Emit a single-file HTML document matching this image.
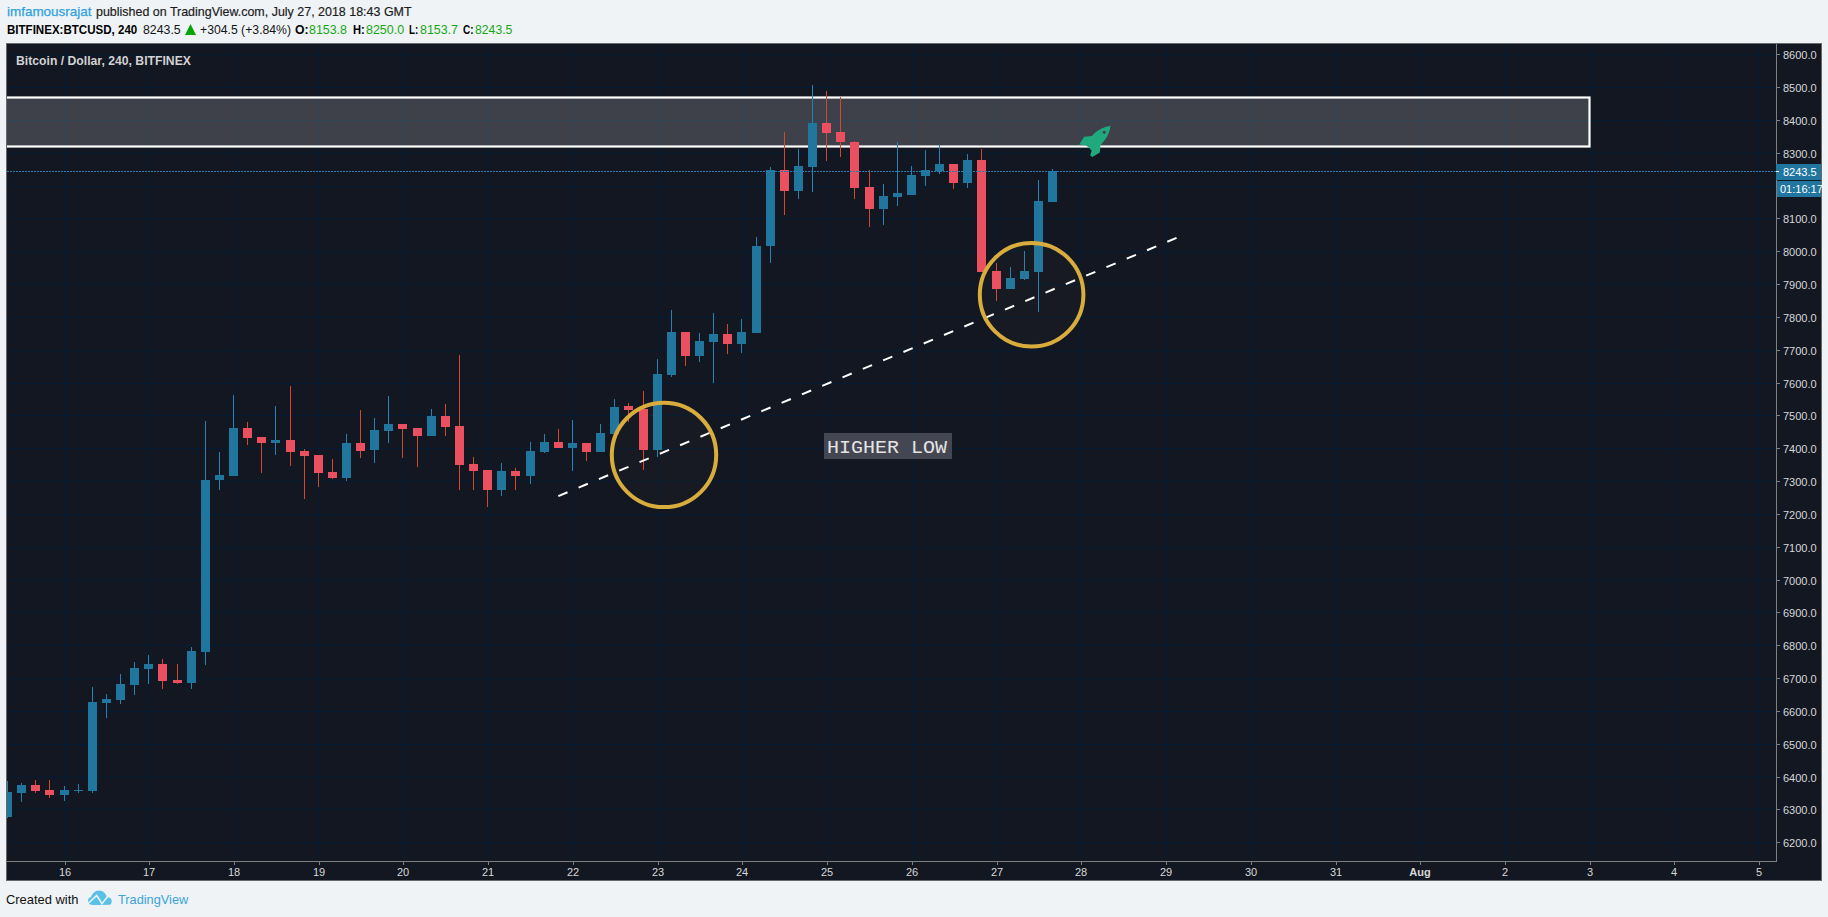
<!DOCTYPE html>
<html><head><meta charset="utf-8"><style>
html,body{margin:0;padding:0;}
body{width:1828px;height:917px;background:#eff3f6;position:relative;overflow:hidden;font-family:"Liberation Sans",sans-serif;}
.t{position:absolute;white-space:nowrap;font-size:12px;line-height:14px;color:#222;}
svg.main{position:absolute;left:0;top:0;}
.pl{position:absolute;left:1783px;font-size:11px;line-height:14px;color:#d8d8d8;white-space:nowrap;}
.dl{position:absolute;top:865px;width:40px;text-align:center;font-size:11px;line-height:14px;color:#d8d8d8;}
.b{font-weight:bold;}
.s{position:absolute;white-space:nowrap;line-height:20px;transform-origin:0 0;}
.g{color:#21a321;}
</style></head><body>
<svg class="main" width="1828" height="917" viewBox="0 0 1828 917">
<defs><clipPath id="pane"><rect x="7" y="44" width="1769" height="817"/></clipPath></defs>
<rect x="6.5" y="43.5" width="1815" height="837" fill="#131722" stroke="#696969" stroke-width="1"/>
<g clip-path="url(#pane)">
<g fill="#031c33">
<rect x="7" y="54" width="1768" height="1"/>
<rect x="7" y="87" width="1768" height="1"/>
<rect x="7" y="120" width="1768" height="1"/>
<rect x="7" y="153" width="1768" height="1"/>
<rect x="7" y="186" width="1768" height="1"/>
<rect x="7" y="218" width="1768" height="1"/>
<rect x="7" y="251" width="1768" height="1"/>
<rect x="7" y="284" width="1768" height="1"/>
<rect x="7" y="317" width="1768" height="1"/>
<rect x="7" y="350" width="1768" height="1"/>
<rect x="7" y="383" width="1768" height="1"/>
<rect x="7" y="415" width="1768" height="1"/>
<rect x="7" y="448" width="1768" height="1"/>
<rect x="7" y="481" width="1768" height="1"/>
<rect x="7" y="514" width="1768" height="1"/>
<rect x="7" y="547" width="1768" height="1"/>
<rect x="7" y="580" width="1768" height="1"/>
<rect x="7" y="612" width="1768" height="1"/>
<rect x="7" y="645" width="1768" height="1"/>
<rect x="7" y="678" width="1768" height="1"/>
<rect x="7" y="711" width="1768" height="1"/>
<rect x="7" y="744" width="1768" height="1"/>
<rect x="7" y="777" width="1768" height="1"/>
<rect x="7" y="809" width="1768" height="1"/>
<rect x="7" y="842" width="1768" height="1"/>
<rect x="65" y="44" width="1" height="817"/>
<rect x="149" y="44" width="1" height="817"/>
<rect x="234" y="44" width="1" height="817"/>
<rect x="319" y="44" width="1" height="817"/>
<rect x="403" y="44" width="1" height="817"/>
<rect x="488" y="44" width="1" height="817"/>
<rect x="573" y="44" width="1" height="817"/>
<rect x="658" y="44" width="1" height="817"/>
<rect x="742" y="44" width="1" height="817"/>
<rect x="827" y="44" width="1" height="817"/>
<rect x="912" y="44" width="1" height="817"/>
<rect x="997" y="44" width="1" height="817"/>
<rect x="1081" y="44" width="1" height="817"/>
<rect x="1166" y="44" width="1" height="817"/>
<rect x="1251" y="44" width="1" height="817"/>
<rect x="1336" y="44" width="1" height="817"/>
<rect x="1420" y="44" width="1" height="817"/>
<rect x="1505" y="44" width="1" height="817"/>
<rect x="1590" y="44" width="1" height="817"/>
<rect x="1674" y="44" width="1" height="817"/>
<rect x="1759" y="44" width="1" height="817"/>
</g>
<rect x="0" y="97.5" width="1589.5" height="49" fill="rgba(255,255,255,0.185)"/>
<rect x="0" y="97.5" width="1589.5" height="49" fill="none" stroke="#ffffff" stroke-width="2.2"/>
<g shape-rendering="crispEdges">
<rect x="7" y="781" width="1" height="37" fill="#2582b3"/>
<rect x="3" y="792" width="9" height="25" fill="#21769e"/>
<rect x="21" y="783" width="1" height="19" fill="#2582b3"/>
<rect x="17" y="785" width="9" height="8" fill="#21769e"/>
<rect x="35" y="780" width="1" height="13" fill="#d4482a"/>
<rect x="31" y="785" width="9" height="6" fill="#eb5060"/>
<rect x="49" y="780" width="1" height="18" fill="#d4482a"/>
<rect x="45" y="790" width="9" height="5" fill="#eb5060"/>
<rect x="64" y="786" width="1" height="15" fill="#2582b3"/>
<rect x="60" y="790" width="9" height="5" fill="#21769e"/>
<rect x="78" y="784" width="1" height="9" fill="#2582b3"/>
<rect x="74" y="790" width="9" height="1" fill="#21769e"/>
<rect x="92" y="687" width="1" height="106" fill="#2582b3"/>
<rect x="88" y="702" width="9" height="89" fill="#21769e"/>
<rect x="106" y="694" width="1" height="24" fill="#2582b3"/>
<rect x="102" y="699" width="9" height="4" fill="#21769e"/>
<rect x="120" y="674" width="1" height="30" fill="#2582b3"/>
<rect x="116" y="684" width="9" height="16" fill="#21769e"/>
<rect x="134" y="662" width="1" height="33" fill="#2582b3"/>
<rect x="130" y="668" width="9" height="17" fill="#21769e"/>
<rect x="148" y="655" width="1" height="29" fill="#2582b3"/>
<rect x="144" y="664" width="9" height="5" fill="#21769e"/>
<rect x="162" y="659" width="1" height="30" fill="#d4482a"/>
<rect x="158" y="664" width="9" height="17" fill="#eb5060"/>
<rect x="177" y="664" width="1" height="20" fill="#d4482a"/>
<rect x="173" y="680" width="9" height="3" fill="#eb5060"/>
<rect x="191" y="647" width="1" height="42" fill="#2582b3"/>
<rect x="187" y="651" width="9" height="32" fill="#21769e"/>
<rect x="205" y="421" width="1" height="244" fill="#2582b3"/>
<rect x="201" y="480" width="9" height="172" fill="#21769e"/>
<rect x="219" y="452" width="1" height="38" fill="#2582b3"/>
<rect x="215" y="475" width="9" height="5" fill="#21769e"/>
<rect x="233" y="395" width="1" height="81" fill="#2582b3"/>
<rect x="229" y="428" width="9" height="48" fill="#21769e"/>
<rect x="247" y="422" width="1" height="23" fill="#d4482a"/>
<rect x="243" y="428" width="9" height="10" fill="#eb5060"/>
<rect x="261" y="437" width="1" height="36" fill="#d4482a"/>
<rect x="257" y="437" width="9" height="6" fill="#eb5060"/>
<rect x="275" y="406" width="1" height="49" fill="#2582b3"/>
<rect x="271" y="440" width="9" height="3" fill="#21769e"/>
<rect x="290" y="386" width="1" height="80" fill="#d4482a"/>
<rect x="286" y="440" width="9" height="12" fill="#eb5060"/>
<rect x="304" y="449" width="1" height="50" fill="#d4482a"/>
<rect x="300" y="451" width="9" height="5" fill="#eb5060"/>
<rect x="318" y="455" width="1" height="32" fill="#d4482a"/>
<rect x="314" y="455" width="9" height="18" fill="#eb5060"/>
<rect x="332" y="459" width="1" height="20" fill="#d4482a"/>
<rect x="328" y="472" width="9" height="6" fill="#eb5060"/>
<rect x="346" y="434" width="1" height="47" fill="#2582b3"/>
<rect x="342" y="443" width="9" height="35" fill="#21769e"/>
<rect x="360" y="410" width="1" height="48" fill="#d4482a"/>
<rect x="356" y="443" width="9" height="8" fill="#eb5060"/>
<rect x="374" y="418" width="1" height="45" fill="#2582b3"/>
<rect x="370" y="430" width="9" height="20" fill="#21769e"/>
<rect x="388" y="396" width="1" height="47" fill="#2582b3"/>
<rect x="384" y="424" width="9" height="7" fill="#21769e"/>
<rect x="402" y="424" width="1" height="34" fill="#d4482a"/>
<rect x="398" y="424" width="9" height="5" fill="#eb5060"/>
<rect x="417" y="428" width="1" height="39" fill="#d4482a"/>
<rect x="413" y="428" width="9" height="8" fill="#eb5060"/>
<rect x="431" y="409" width="1" height="27" fill="#2582b3"/>
<rect x="427" y="416" width="9" height="20" fill="#21769e"/>
<rect x="445" y="404" width="1" height="32" fill="#d4482a"/>
<rect x="441" y="416" width="9" height="11" fill="#eb5060"/>
<rect x="459" y="355" width="1" height="135" fill="#d4482a"/>
<rect x="455" y="426" width="9" height="39" fill="#eb5060"/>
<rect x="473" y="457" width="1" height="33" fill="#d4482a"/>
<rect x="469" y="464" width="9" height="7" fill="#eb5060"/>
<rect x="487" y="470" width="1" height="37" fill="#d4482a"/>
<rect x="483" y="470" width="9" height="20" fill="#eb5060"/>
<rect x="501" y="463" width="1" height="33" fill="#2582b3"/>
<rect x="497" y="471" width="9" height="19" fill="#21769e"/>
<rect x="515" y="468" width="1" height="22" fill="#d4482a"/>
<rect x="511" y="471" width="9" height="5" fill="#eb5060"/>
<rect x="530" y="442" width="1" height="42" fill="#2582b3"/>
<rect x="526" y="451" width="9" height="25" fill="#21769e"/>
<rect x="544" y="434" width="1" height="19" fill="#2582b3"/>
<rect x="540" y="442" width="9" height="10" fill="#21769e"/>
<rect x="558" y="429" width="1" height="19" fill="#d4482a"/>
<rect x="554" y="442" width="9" height="6" fill="#eb5060"/>
<rect x="572" y="420" width="1" height="51" fill="#2582b3"/>
<rect x="568" y="443" width="9" height="5" fill="#21769e"/>
<rect x="586" y="443" width="1" height="18" fill="#d4482a"/>
<rect x="582" y="443" width="9" height="9" fill="#eb5060"/>
<rect x="600" y="424" width="1" height="28" fill="#2582b3"/>
<rect x="596" y="433" width="9" height="19" fill="#21769e"/>
<rect x="614" y="399" width="1" height="35" fill="#2582b3"/>
<rect x="610" y="407" width="9" height="27" fill="#21769e"/>
<rect x="628" y="403" width="1" height="19" fill="#d4482a"/>
<rect x="624" y="406" width="9" height="4" fill="#eb5060"/>
<rect x="643" y="391" width="1" height="79" fill="#d4482a"/>
<rect x="639" y="409" width="9" height="41" fill="#eb5060"/>
<rect x="657" y="359" width="1" height="98" fill="#2582b3"/>
<rect x="653" y="374" width="9" height="76" fill="#21769e"/>
<rect x="671" y="310" width="1" height="67" fill="#2582b3"/>
<rect x="667" y="332" width="9" height="43" fill="#21769e"/>
<rect x="685" y="332" width="1" height="34" fill="#d4482a"/>
<rect x="681" y="332" width="9" height="24" fill="#eb5060"/>
<rect x="699" y="333" width="1" height="29" fill="#2582b3"/>
<rect x="695" y="341" width="9" height="15" fill="#21769e"/>
<rect x="713" y="313" width="1" height="70" fill="#2582b3"/>
<rect x="709" y="334" width="9" height="8" fill="#21769e"/>
<rect x="727" y="324" width="1" height="30" fill="#d4482a"/>
<rect x="723" y="334" width="9" height="10" fill="#eb5060"/>
<rect x="741" y="319" width="1" height="34" fill="#2582b3"/>
<rect x="737" y="332" width="9" height="12" fill="#21769e"/>
<rect x="756" y="237" width="1" height="96" fill="#2582b3"/>
<rect x="752" y="246" width="9" height="87" fill="#21769e"/>
<rect x="770" y="167" width="1" height="96" fill="#2582b3"/>
<rect x="766" y="170" width="9" height="76" fill="#21769e"/>
<rect x="784" y="132" width="1" height="83" fill="#d4482a"/>
<rect x="780" y="170" width="9" height="21" fill="#eb5060"/>
<rect x="798" y="149" width="1" height="50" fill="#2582b3"/>
<rect x="794" y="166" width="9" height="25" fill="#21769e"/>
<rect x="812" y="85" width="1" height="107" fill="#2582b3"/>
<rect x="808" y="123" width="9" height="44" fill="#21769e"/>
<rect x="826" y="91" width="1" height="70" fill="#d4482a"/>
<rect x="822" y="123" width="9" height="10" fill="#eb5060"/>
<rect x="840" y="97" width="1" height="60" fill="#d4482a"/>
<rect x="836" y="132" width="9" height="10" fill="#eb5060"/>
<rect x="854" y="141" width="1" height="58" fill="#d4482a"/>
<rect x="850" y="142" width="9" height="46" fill="#eb5060"/>
<rect x="869" y="170" width="1" height="57" fill="#d4482a"/>
<rect x="865" y="187" width="9" height="22" fill="#eb5060"/>
<rect x="883" y="184" width="1" height="41" fill="#2582b3"/>
<rect x="879" y="196" width="9" height="13" fill="#21769e"/>
<rect x="897" y="142" width="1" height="64" fill="#2582b3"/>
<rect x="893" y="193" width="9" height="4" fill="#21769e"/>
<rect x="911" y="166" width="1" height="29" fill="#2582b3"/>
<rect x="907" y="175" width="9" height="20" fill="#21769e"/>
<rect x="925" y="150" width="1" height="36" fill="#2582b3"/>
<rect x="921" y="170" width="9" height="6" fill="#21769e"/>
<rect x="939" y="145" width="1" height="29" fill="#2582b3"/>
<rect x="935" y="164" width="9" height="7" fill="#21769e"/>
<rect x="953" y="164" width="1" height="25" fill="#d4482a"/>
<rect x="949" y="164" width="9" height="19" fill="#eb5060"/>
<rect x="967" y="154" width="1" height="34" fill="#2582b3"/>
<rect x="963" y="160" width="9" height="23" fill="#21769e"/>
<rect x="981" y="149" width="1" height="123" fill="#d4482a"/>
<rect x="977" y="160" width="9" height="112" fill="#eb5060"/>
<rect x="996" y="263" width="1" height="38" fill="#d4482a"/>
<rect x="992" y="271" width="9" height="18" fill="#eb5060"/>
<rect x="1010" y="267" width="1" height="22" fill="#2582b3"/>
<rect x="1006" y="278" width="9" height="11" fill="#21769e"/>
<rect x="1024" y="251" width="1" height="29" fill="#2582b3"/>
<rect x="1020" y="271" width="9" height="8" fill="#21769e"/>
<rect x="1038" y="180" width="1" height="132" fill="#2582b3"/>
<rect x="1034" y="201" width="9" height="71" fill="#21769e"/>
<rect x="1052" y="169" width="1" height="33" fill="#2582b3"/>
<rect x="1048" y="171" width="9" height="31" fill="#21769e"/>
</g>
<line x1="7" y1="171.5" x2="1776" y2="171.5" stroke="#237ead" stroke-width="1" stroke-dasharray="2 1" shape-rendering="crispEdges"/>
<line x1="558.3" y1="496.1" x2="1177" y2="237.7" stroke="#ffffff" stroke-width="2" stroke-dasharray="10 12"/>
<circle cx="664" cy="454.9" r="52.2" fill="rgba(255,200,60,0.02)" stroke="#d9ad3d" stroke-width="4"/>
<circle cx="1031.6" cy="294.75" r="51.8" fill="rgba(255,200,60,0.02)" stroke="#d9ad3d" stroke-width="4"/>
<path fill="#1fa97d" fill-rule="evenodd" d="M1110.4 125.8 C1110.2 131 1107.8 136.5 1104 141 L1100.5 145.2 L1099.8 152.6 L1092.4 157.1 L1090.2 155.6 L1091.6 150.6 L1088.3 147 L1085.5 145.2 L1079.2 144.5 L1084.2 136.8 L1091.8 136 C1095.5 131.8 1101.5 127.5 1110.4 125.8 Z M1104.2 130.7 a1.6 1.6 0 1 0 0.01 0 Z"/>
<rect x="824" y="433" width="128" height="26" fill="rgba(110,112,120,0.55)"/>
</g>
<rect x="1776" y="44" width="1" height="818" fill="#808080"/>
<rect x="7" y="861" width="1770" height="1" fill="#808080"/>
<g fill="#808080">
<rect x="1777" y="54" width="3" height="1"/>
<rect x="1777" y="87" width="3" height="1"/>
<rect x="1777" y="120" width="3" height="1"/>
<rect x="1777" y="153" width="3" height="1"/>
<rect x="1777" y="186" width="3" height="1"/>
<rect x="1777" y="218" width="3" height="1"/>
<rect x="1777" y="251" width="3" height="1"/>
<rect x="1777" y="284" width="3" height="1"/>
<rect x="1777" y="317" width="3" height="1"/>
<rect x="1777" y="350" width="3" height="1"/>
<rect x="1777" y="383" width="3" height="1"/>
<rect x="1777" y="415" width="3" height="1"/>
<rect x="1777" y="448" width="3" height="1"/>
<rect x="1777" y="481" width="3" height="1"/>
<rect x="1777" y="514" width="3" height="1"/>
<rect x="1777" y="547" width="3" height="1"/>
<rect x="1777" y="580" width="3" height="1"/>
<rect x="1777" y="612" width="3" height="1"/>
<rect x="1777" y="645" width="3" height="1"/>
<rect x="1777" y="678" width="3" height="1"/>
<rect x="1777" y="711" width="3" height="1"/>
<rect x="1777" y="744" width="3" height="1"/>
<rect x="1777" y="777" width="3" height="1"/>
<rect x="1777" y="809" width="3" height="1"/>
<rect x="1777" y="842" width="3" height="1"/>
<rect x="65" y="862" width="1" height="3"/>
<rect x="149" y="862" width="1" height="3"/>
<rect x="234" y="862" width="1" height="3"/>
<rect x="319" y="862" width="1" height="3"/>
<rect x="403" y="862" width="1" height="3"/>
<rect x="488" y="862" width="1" height="3"/>
<rect x="573" y="862" width="1" height="3"/>
<rect x="658" y="862" width="1" height="3"/>
<rect x="742" y="862" width="1" height="3"/>
<rect x="827" y="862" width="1" height="3"/>
<rect x="912" y="862" width="1" height="3"/>
<rect x="997" y="862" width="1" height="3"/>
<rect x="1081" y="862" width="1" height="3"/>
<rect x="1166" y="862" width="1" height="3"/>
<rect x="1251" y="862" width="1" height="3"/>
<rect x="1336" y="862" width="1" height="3"/>
<rect x="1420" y="862" width="1" height="3"/>
<rect x="1505" y="862" width="1" height="3"/>
<rect x="1590" y="862" width="1" height="3"/>
<rect x="1674" y="862" width="1" height="3"/>
<rect x="1759" y="862" width="1" height="3"/>
</g>
<rect x="1776" y="164" width="45" height="16" fill="#2176a0"/>
<rect x="1776" y="171" width="3" height="1" fill="#ffffff"/>
<rect x="1777" y="181" width="44" height="16" fill="#2176a0"/>
</svg>
<div class="s" style="left:6.80px;top:2px;font-family:'Liberation Sans',sans-serif;font-size:13.5px;-webkit-text-stroke:0.25px #2ea2df;color:#2ea2df;transform:scaleX(0.9965);">imfamousrajat</div>
<div class="s" style="left:95.80px;top:2px;font-family:'Liberation Sans',sans-serif;font-size:13.5px;-webkit-text-stroke:0.2px #1c1c1c;color:#1c1c1c;transform:scaleX(0.9228);">published on TradingView.com, July 27, 2018 18:43 GMT</div>
<div class="s" style="left:6.90px;top:20px;font-family:'Liberation Sans',sans-serif;font-size:12.5px;font-weight:bold;color:#000000;transform:scaleX(0.9241);">BITFINEX:BTCUSD, 240</div>
<div class="s" style="left:143.20px;top:20px;font-family:'Liberation Sans',sans-serif;font-size:13px;color:#141414;transform:scaleX(0.9475);">8243.5</div>
<div class="s" style="left:199.50px;top:20px;font-family:'Liberation Sans',sans-serif;font-size:13px;color:#141414;transform:scaleX(0.9402);">+304.5 (+3.84%)</div>
<div class="s" style="left:295.30px;top:20px;font-family:'Liberation Sans',sans-serif;font-size:12.5px;font-weight:bold;color:#000000;transform:scaleX(0.9769);">O:</div>
<div class="s" style="left:309.30px;top:20px;font-family:'Liberation Sans',sans-serif;font-size:13px;color:#14a814;transform:scaleX(0.9525);">8153.8</div>
<div class="s" style="left:352.60px;top:20px;font-family:'Liberation Sans',sans-serif;font-size:12.5px;font-weight:bold;color:#000000;transform:scaleX(0.8923);">H:</div>
<div class="s" style="left:366.40px;top:20px;font-family:'Liberation Sans',sans-serif;font-size:13px;color:#14a814;transform:scaleX(0.9575);">8250.0</div>
<div class="s" style="left:409.40px;top:20px;font-family:'Liberation Sans',sans-serif;font-size:12.5px;font-weight:bold;color:#000000;transform:scaleX(0.7818);">L:</div>
<div class="s" style="left:420.30px;top:20px;font-family:'Liberation Sans',sans-serif;font-size:13px;color:#14a814;transform:scaleX(0.9550);">8153.7</div>
<div class="s" style="left:463.10px;top:20px;font-family:'Liberation Sans',sans-serif;font-size:12.5px;font-weight:bold;color:#000000;transform:scaleX(0.8000);">C:</div>
<div class="s" style="left:475.40px;top:20px;font-family:'Liberation Sans',sans-serif;font-size:13px;color:#14a814;transform:scaleX(0.9400);">8243.5</div>
<div class="s" style="left:15.70px;top:51px;font-family:'Liberation Sans',sans-serif;font-size:12.5px;font-weight:bold;color:#d2d2d2;transform:scaleX(0.9760);">Bitcoin / Dollar, 240, BITFINEX</div>
<div class="s" style="left:826.65px;top:438px;font-family:'Liberation Mono',monospace;font-size:19px;color:#e4e4e4;transform:scaleX(1.0531);">HIGHER LOW</div>
<div class="s" style="left:6.40px;top:890px;font-family:'Liberation Sans',sans-serif;font-size:13px;color:#111111;transform:scaleX(0.9918);">Created with</div>
<div class="s" style="left:118.00px;top:890px;font-family:'Liberation Sans',sans-serif;font-size:13px;color:#3ba3dc;transform:scaleX(0.9819);">TradingView</div>
<svg style="position:absolute;left:185px;top:24px" width="11" height="11" viewBox="0 0 11 11"><path d="M5.5 0 L11 11 L0 11 Z" fill="#06a306"/></svg>
<div class="pl" style="top:48px">8600.0</div><div class="pl" style="top:81px">8500.0</div><div class="pl" style="top:114px">8400.0</div><div class="pl" style="top:147px">8300.0</div><div class="pl" style="top:212px">8100.0</div><div class="pl" style="top:245px">8000.0</div><div class="pl" style="top:278px">7900.0</div><div class="pl" style="top:311px">7800.0</div><div class="pl" style="top:344px">7700.0</div><div class="pl" style="top:377px">7600.0</div><div class="pl" style="top:409px">7500.0</div><div class="pl" style="top:442px">7400.0</div><div class="pl" style="top:475px">7300.0</div><div class="pl" style="top:508px">7200.0</div><div class="pl" style="top:541px">7100.0</div><div class="pl" style="top:574px">7000.0</div><div class="pl" style="top:606px">6900.0</div><div class="pl" style="top:639px">6800.0</div><div class="pl" style="top:672px">6700.0</div><div class="pl" style="top:705px">6600.0</div><div class="pl" style="top:738px">6500.0</div><div class="pl" style="top:771px">6400.0</div><div class="pl" style="top:803px">6300.0</div><div class="pl" style="top:836px">6200.0</div>
<div class="pl" style="top:165px;color:#fff;">8243.5</div>
<div class="pl" style="top:182px;color:#fff;left:1780px">01:16:17</div>
<div class="dl" style="left:45px">16</div><div class="dl" style="left:129px">17</div><div class="dl" style="left:214px">18</div><div class="dl" style="left:299px">19</div><div class="dl" style="left:383px">20</div><div class="dl" style="left:468px">21</div><div class="dl" style="left:553px">22</div><div class="dl" style="left:638px">23</div><div class="dl" style="left:722px">24</div><div class="dl" style="left:807px">25</div><div class="dl" style="left:892px">26</div><div class="dl" style="left:977px">27</div><div class="dl" style="left:1061px">28</div><div class="dl" style="left:1146px">29</div><div class="dl" style="left:1231px">30</div><div class="dl" style="left:1316px">31</div><div class="dl b" style="left:1400px">Aug</div><div class="dl" style="left:1485px">2</div><div class="dl" style="left:1570px">3</div><div class="dl" style="left:1654px">4</div><div class="dl" style="left:1739px">5</div>
<svg style="position:absolute;left:87px;top:889px" width="26" height="17" viewBox="0 0 26 17">
<clipPath id="lg"><rect x="0" y="0" width="26" height="15.7"/></clipPath>
<g fill="#5bc0e6" clip-path="url(#lg)"><circle cx="12" cy="9.6" r="8"/><circle cx="5" cy="12" r="4"/><circle cx="20.6" cy="12.3" r="4.1"/><rect x="5" y="10" width="15.6" height="6"/></g>
<polyline points="0.8,14.8 9.7,6.5 15,14.7 21.4,6.6 23.5,4.2" fill="none" stroke="#eff3f6" stroke-width="1.5"/>
</svg>
</body></html>
